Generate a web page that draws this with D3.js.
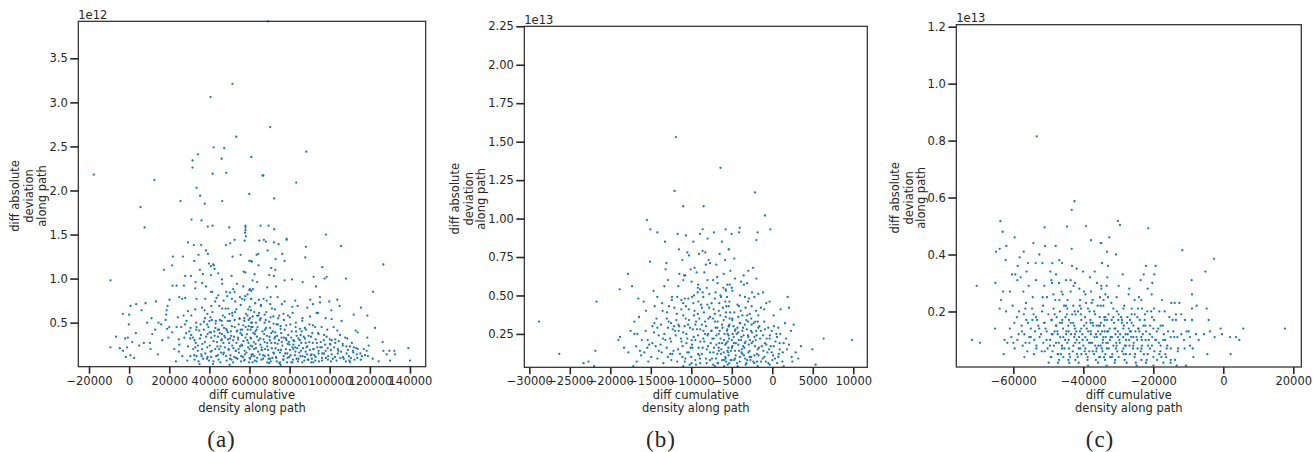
<!DOCTYPE html>
<html><head><meta charset="utf-8">
<script src="https://cdn.jsdelivr.net/npm/d3@7"></script>
<style>
html,body{margin:0;padding:0;background:#fff;}
svg text{font-family:"DejaVu Sans",sans-serif;fill:#262626;}
</style></head>
<body><svg id="chart" width="1314" height="452"></svg>
<script>
// ---------- DATA ----------
const xLabelLines = ["diff cumulative", "density along path"];
const yLabelLines = ["diff absolute", "deviation", "along path"];
const captions = ["(a)", "(b)", "(c)"];
const offsetTexts = ["1e12", "1e13", "1e13"];

const xTicksA = [-20000,0,20000,40000,60000,80000,100000,120000,140000];
const yTicksA = [0.5,1.0,1.5,2.0,2.5,3.0,3.5];
const xTicksB = [-30000,-25000,-20000,-15000,-10000,-5000,0,5000,10000];
const yTicksB = [0.25,0.50,0.75,1.00,1.25,1.50,1.75,2.00,2.25];
const xTicksC = [-60000,-40000,-20000,0,20000];
const yTicksC = [0.2,0.4,0.6,0.8,1.0,1.2];

// points: [diff cumulative density, diff absolute deviation (in units of the offset text)]
const pointsA = [
[69300,3.92],[51500,3.21],[40600,3.06],[70300,2.72],[53400,2.61],[42100,2.49],[47400,2.48],[88300,2.44],[34300,2.41],[46100,2.36],[31600,2.34],[31600,2.26],[60900,2.38],[-17600,2.18],[41600,2.19],[48400,2.2],[66500,2.17],[66900,2.17],[12600,2.12],[83300,2.09],[33600,2.03],[35400,1.94],[59900,1.96],[72300,1.91],[25600,1.88],[46400,1.88],[37700,1.85],[5700,1.81],[31100,1.67],[36100,1.66],[7700,1.58],[39200,1.59],[41600,1.6],[49900,1.58],[58000,1.6],[58000,1.55],[65500,1.6],[69500,1.6],[72300,1.56],[78500,1.45],[98100,1.5],[58000,1.58],[57800,1.52],[58200,1.48],
[29290,1.41],[32280,1.38],[35940,1.38],[34610,1.27],[38270,1.32],[39270,1.28],[48250,1.38],[50400,1.4],[52570,1.44],[57560,1.43],[51570,1.25],[55560,1.27],[21810,1.25],[26790,1.25],[32450,1.2],[21470,1.15],[39770,1.17],[41930,1.16],[42260,1.15],[40760,1.14],[35280,1.1],[42590,1.11],[59890,1.2],[60890,1.2],[57060,1.08],[57890,1.07],[17320,1.1],[27960,1.03],[30790,1.03],[36770,1.05],[40760,1.04],[44420,1.06],[46250,0.99],[51070,1.03],[-9290,0.98],[21640,0.92],[23640,0.92],[27290,0.92],[33110,0.96],[36440,0.95],[38270,0.91],[32950,0.89],[40760,0.85],[41430,0.85],[46420,0.94],[53740,0.94],[56900,0.91],[51900,0.88],[52570,0.85],[50240,0.84],[59890,0.87],[60890,0.86],[44420,0.81],[48410,0.85],[48910,0.8],[59060,0.82],[55230,0.79],[56230,0.77],[57890,0.8],[24970,0.79],[26460,0.77],[27960,0.78],[33610,0.77],[37940,0.77],[43590,0.78],[42930,0.74],[47080,0.75],[51240,0.77],[52900,0.74],[57560,0.76],[60720,0.77],[13320,0.74],[20140,0.76],[8170,0.72],[3510,0.71],[690,0.69],[6170,0.64],[19150,0.69],[18650,0.64],[29290,0.63],[32950,0.65],[36280,0.67],[37600,0.64],[40930,0.69],[44910,0.69],[46420,0.66],[49410,0.66],[51400,0.61],[53400,0.65],[59390,0.65],[60720,0.64],[-3140,0.6],[20,0.59],[11160,0.55],[18480,0.59],[18150,0.53],[24300,0.56],[27130,0.58],[28620,0.52],[33450,0.5],[37770,0.55],[40100,0.52],[38930,0.48],[41260,0.53],[43090,0.49],[45250,0.53],[46080,0.52],[47750,0.56],[50240,0.52],[52570,0.53],[55070,0.54],[57400,0.55],[59560,0.53],[61220,0.5],[-150,0.48],[14650,0.5],[15990,0.48],[18980,0.43],[23640,0.45],[25960,0.45],[27790,0.48],[30620,0.44],[33610,0.45],[34940,0.41],[37270,0.42],[39100,0.37],[40100,0.39],[42430,0.4],[44250,0.42],[46250,0.37],[48410,0.43],[49240,0.39],[50900,0.35],[53900,0.41],[55560,0.42],[58060,0.45],[60560,0.42],[61550,0.45],[3350,0.38],[11500,0.37],[21470,0.39],[28460,0.38],[30950,0.36],[-1980,0.32],[-650,0.33],[7340,0.27],[10330,0.27],[19480,0.33],[24800,0.31],[30450,0.32],[32610,0.3],[35280,0.32],[37770,0.28],[40930,0.33],[42100,0.29],[44250,0.34],[45920,0.3],[47910,0.33],[49240,0.31],[51900,0.3],[54230,0.33],[56230,0.36],[58890,0.3],[60720,0.32],[-9290,0.22],[-4640,0.21],[-980,0.22],[10660,0.2],[24800,0.17],[29290,0.23],[31950,0.2],[34280,0.24],[36280,0.2],[38930,0.22],[40600,0.17],[42930,0.2],[45580,0.23],[47250,0.16],[49570,0.2],[51400,0.24],[53240,0.18],[54570,0.2],[56400,0.24],[57560,0.18],[60060,0.2],[-1640,0.11],[690,0.13],[14320,0.14],[23300,0.06],[32450,0.13],[33610,0.12],[36110,0.12],[39100,0.11],[40930,0.11],[44250,0.13],[46910,0.14],[50240,0.09],[52400,0.11],[55900,0.12],[57560,0.08],[60060,0.1],[61720,0.14],
[64860,1.43],[68180,1.42],[72170,1.41],[74500,1.39],[67180,1.44],[78490,1.44],[88140,1.36],[105600,1.37],[64360,1.28],[63530,1.27],[76330,1.28],[69010,1.32],[73010,1.22],[77500,1.2],[87810,1.24],[61200,1.19],[64520,1.15],[70840,1.12],[72840,1.1],[96290,1.13],[126720,1.16],[62530,1.05],[69850,1.04],[72170,1.03],[91960,1.02],[97450,1],[98450,1.02],[108090,1],[77500,0.98],[81150,0.99],[86480,0.96],[61530,0.98],[63860,0.96],[68850,0.9],[73170,0.91],[93130,0.91],[121560,0.85],[60200,0.88],[61700,0.88],[70510,0.79],[74000,0.79],[60870,0.77],[64690,0.76],[67020,0.77],[68520,0.75],[77500,0.74],[82820,0.75],[90300,0.76],[95120,0.79],[99780,0.74],[103770,0.76],[95120,0.73],[62860,0.72],[65690,0.69],[70340,0.71],[72670,0.65],[76160,0.71],[81320,0.68],[83980,0.69],[88810,0.67],[91630,0.71],[94130,0.61],[100780,0.64],[104930,0.69],[115580,0.67],[111920,0.59],[118740,0.58],[62360,0.62],[64520,0.58],[67520,0.59],[74830,0.58],[77160,0.53],[79160,0.58],[81490,0.61],[86310,0.52],[90130,0.57],[93460,0.61],[97950,0.55],[100940,0.54],[105930,0.52],[60200,0.55],[65190,0.53],[69850,0.51],[72010,0.49],[75500,0.46],[80320,0.48],[82980,0.45],[85150,0.43],[88140,0.42],[91630,0.47],[95950,0.45],[98780,0.42],[101940,0.45],[103770,0.41],[122560,0.44],[112920,0.41],[113910,0.39],[60870,0.45],[63530,0.42],[67680,0.42],[70840,0.38],[72840,0.34],[76000,0.33],[78160,0.32],[81820,0.3],[85480,0.36],[87640,0.32],[90630,0.34],[94460,0.37],[98450,0.34],[100940,0.3],[105100,0.36],[108760,0.32],[118740,0.33],[126390,0.28],[139190,0.21],[62690,0.37],[65360,0.32],[67520,0.28],[70180,0.3],[74000,0.26],[78990,0.26],[82820,0.22],[85810,0.27],[88810,0.23],[91800,0.2],[96120,0.22],[100110,0.26],[102770,0.27],[106430,0.26],[110090,0.23],[113250,0.21],[119400,0.24],[60530,0.24],[63190,0.21],[66020,0.19],[68850,0.23],[71840,0.16],[75670,0.19],[78830,0.15],[81820,0.2],[84810,0.16],[87980,0.17],[90970,0.14],[94460,0.18],[97120,0.15],[100610,0.19],[104270,0.18],[108430,0.15],[111750,0.16],[115250,0.15],[118410,0.18],[126720,0.18],[129710,0.18],[132210,0.18],[132540,0.14],[128380,0.14],[61030,0.12],[63860,0.1],[66850,0.13],[70180,0.09],[73170,0.11],[76990,0.08],[79820,0.11],[83480,0.09],[86480,0.12],[89300,0.08],[92960,0.11],[96120,0.1],[99110,0.08],[102610,0.11],[106600,0.11],[109760,0.07],[113750,0.1],[117570,0.13],[121400,0.09],[124390,0.06],[130050,0.07],[140020,0.07],[61530,0.05],[68850,0.05],[75170,0.05],[80820,0.05],[91800,0.05],[110090,0.05],
[31000,0.58],[33500,0.42],[35800,0.36],[36500,0.26],[38000,0.15],[39500,0.45],[40200,0.24],[41500,0.62],[42000,0.06],[43000,0.44],[43800,0.28],[44600,0.08],[45200,0.38],[45900,0.16],[46700,0.58],[47300,0.44],[47800,0.22],[48600,0.07],[49200,0.52],[49900,0.27],[50500,0.13],[51200,0.46],[51800,0.05],[52300,0.34],[52800,0.62],[53500,0.27],[54000,0.09],[54600,0.48],[55300,0.23],[55800,0.06],[56400,0.42],[57000,0.29],[57700,0.14],[58300,0.6],[58700,0.37],[59300,0.22],[59800,0.05],[60500,0.33],[61000,0.14],[61600,0.57],[62100,0.28],[62600,0.07],[63200,0.5],[63700,0.34],[64300,0.17],[64800,0.61],[65400,0.25],[65900,0.08],[66500,0.4],[67000,0.31],[67600,0.12],[68100,0.53],[68700,0.35],[69200,0.19],[69800,0.04],[70300,0.44],[70900,0.27],[71400,0.1],[71900,0.57],[72500,0.32],[73000,0.21],[73600,0.06],[74100,0.48],[74700,0.3],[75200,0.16],[75800,0.38],[76400,0.24],[77000,0.12],[77500,0.42],[78100,0.2],[78700,0.05],[79300,0.36],[79900,0.25],[80500,0.13],[81000,0.4],[81700,0.08],[82300,0.29],[82900,0.17],[83500,0.35],[84100,0.06],[84700,0.24],[85400,0.12],[86000,0.4],[86700,0.21],[87300,0.07],[88000,0.27],[88700,0.14],[89400,0.35],[90100,0.19],[90800,0.05],[91500,0.27],[92300,0.13],[93000,0.31],[93800,0.22],[94600,0.06],[95500,0.28],[96300,0.15],[97200,0.36],[98100,0.1],[99000,0.21],[100000,0.31],[101000,0.14],[102200,0.22],[103400,0.07],[104500,0.29],[105700,0.17],[107000,0.09],[108300,0.23],[109500,0.12],[111000,0.27],[112300,0.08],[114000,0.2],[116000,0.12],[34200,0.18],[37300,0.51],[40800,0.39],[43400,0.12],[46200,0.31],[48100,0.66],[50700,0.4],[53100,0.18],[55600,0.7],[57400,0.52],[60100,0.68],[62900,0.4],[65700,0.7],[68400,0.62],[71200,0.66],[74300,0.55],[76900,0.6],[80100,0.56],[83100,0.5],[86400,0.55],[89900,0.48],[92700,0.45],[32600,0.08],[35100,0.03],[38800,0.09],[41800,0.03],[44900,0.2],[47500,0.35],[50100,0.02],[53700,0.4],[56700,0.11],[59600,0.46],[62300,0.2],[66200,0.19],[69500,0.09],[72800,0.39],[75500,0.02],[78400,0.3],[81400,0.22],[84400,0.32],[87600,0.44],[91100,0.09],[94200,0.38],[97700,0.25],[100600,0.06],[104000,0.15],[107700,0.33],[111600,0.18],
[30500,0.12],[31800,0.33],[33200,0.27],[34600,0.06],[35600,0.48],[36900,0.09],[38400,0.34],[39800,0.07],[40500,0.56],[41200,0.18],[42600,0.35],[43200,0.52],[44000,0.23],[45500,0.05],[46400,0.47],[47000,0.27],[48300,0.12],[48800,0.41],[49600,0.19],[50300,0.32],[51000,0.08],[51500,0.58],[52000,0.21],[52600,0.45],[53300,0.1],[54300,0.31],[54800,0.16],[55500,0.38],[56000,0.25],[56900,0.47],[57300,0.07],[58000,0.33],[58500,0.16],[59100,0.42],[59500,0.27],[60300,0.09],[60800,0.5],[61300,0.23],[61900,0.38],[62400,0.12],[63000,0.26],[63500,0.06],[64000,0.45],[64500,0.3],[65100,0.14],[65600,0.55],[66000,0.22],[66800,0.09],[67300,0.37],[67800,0.2],[68300,0.44],[68900,0.27],[69400,0.13],[70000,0.34],[70600,0.06],[71100,0.21],[71600,0.4],[72200,0.15],[72700,0.27],[73300,0.1],[73800,0.35],[74400,0.19],[74900,0.04],[75500,0.43],[76100,0.28],[76700,0.08],[77200,0.33],[77800,0.15],[78300,0.47],[79000,0.1],[79600,0.28],[80200,0.19],[80800,0.33],[81300,0.05],[81900,0.25],[82600,0.13],[83200,0.4],[83800,0.21],[84400,0.09],[85100,0.3],[85700,0.18],[86300,0.05],[87000,0.34],[87700,0.11],[88400,0.22],[89100,0.08],[89800,0.28],[90500,0.13],[91300,0.38],[92000,0.2],[92800,0.07],[93600,0.27],[94400,0.15],[95300,0.22],[96100,0.07],[97000,0.3],[98000,0.18],[99200,0.12],[100300,0.25],[101500,0.09],[102800,0.31],[104000,0.2],[105300,0.1],[106500,0.24],[108000,0.06],[109000,0.19],[110500,0.1],[112000,0.22],[113500,0.14],[115500,0.08],[117000,0.2],[119000,0.12],[44800,0.42],[50000,0.6],[55000,0.55],[59000,0.58],[63800,0.58],[67500,0.5],[70500,0.56],[73500,0.48],[39000,0.6],[36000,0.14],[33000,0.22],[30000,0.4],[27500,0.33],[25000,0.25],[22500,0.2],[26500,0.12],[29000,0.07],[20000,0.45],[16500,0.3],[13000,0.42],[9000,0.5],[5000,0.24],[1500,0.28],[-6500,0.34],[-3000,0.18],[2500,0.1]
];

const pointsB = [
[-11900,1.53],[-6400,1.33],[-12060,1.18],[-2140,1.17],[-28800,0.33],[-26300,0.12],[-23300,0.06],[-22700,0.07],[-21700,0.46],[-21850,0.14],[-22000,0.04],
[-10990,1.08],[-8480,1.08],[-15470,0.99],[-15060,0.93],[-14190,0.91],[-11690,0.9],[-10660,0.89],[-8930,0.9],[-8600,0.93],[-7200,0.91],[-7980,0.87],[-13250,0.85],[-9750,0.85],[-6210,0.85],[-11520,0.8],[-10490,0.78],[-10280,0.76],[-9050,0.77],[-8600,0.79],[-8270,0.78],[-6500,0.77],[-11110,0.73],[-15100,0.72],[-13080,0.71],[-13170,0.67],[-11480,0.64],[-10900,0.63],[-10740,0.63],[-10080,0.67],[-9340,0.65],[-8390,0.65],[-7690,0.71],[-7860,0.73],[-6910,0.7],[-5390,0.8],[-17820,0.64],[-17320,0.56],[-18840,0.54],[-14650,0.53],[-12880,0.6],[-13330,0.56],[-10990,0.6],[-9960,0.59],[-9170,0.57],[-8930,0.54],[-8100,0.55],[-7320,0.6],[-6750,0.58],[-6050,0.55],[-5550,0.57],[-14190,0.49],[-12380,0.49],[-11730,0.49],[-11230,0.47],[-10370,0.48],[-9670,0.5],[-9220,0.52],[-8520,0.49],[-7780,0.51],[-7080,0.48],[-6340,0.49],[-5720,0.53],[-16540,0.48],[-15880,0.46],[-14520,0.43],[-12760,0.43],[-12100,0.42],[-11230,0.41],[-10660,0.43],[-9750,0.45],[-9130,0.46],[-8680,0.42],[-8020,0.44],[-7240,0.41],[-6540,0.45],[-5800,0.46],[-5390,0.43],[-17030,0.33],[-16460,0.36],[-14560,0.32],[-14190,0.29],[-13540,0.4],[-13040,0.35],[-12510,0.32],[-11850,0.34],[-10990,0.37],[-10280,0.34],[-9670,0.37],[-9010,0.35],[-8440,0.39],[-7690,0.36],[-7080,0.33],[-6420,0.37],[-5720,0.39],[-5270,0.35],[-15630,0.27],[-13740,0.31],[-12880,0.29],[-12140,0.3],[-11560,0.27],[-10820,0.3],[-10160,0.29],[-9500,0.31],[-8890,0.28],[-8190,0.3],[-7530,0.27],[-6790,0.29],[-6210,0.31],[-5550,0.28],[-19010,0.21],[-18800,0.23],[-17030,0.25],[-16660,0.25],[-15390,0.21],[-14810,0.19],[-14030,0.24],[-13330,0.25],[-12630,0.22],[-11930,0.24],[-11270,0.22],[-10610,0.25],[-9960,0.21],[-9170,0.24],[-8520,0.22],[-7900,0.25],[-7240,0.22],[-6620,0.25],[-5960,0.21],[-5390,0.24],[-17770,0.13],[-16340,0.14],[-15430,0.16],[-14940,0.1],[-14400,0.17],[-13660,0.13],[-13040,0.16],[-12340,0.12],[-11640,0.15],[-11070,0.17],[-10490,0.13],[-9870,0.16],[-9170,0.12],[-8600,0.16],[-7940,0.17],[-7280,0.13],[-6620,0.16],[-6010,0.13],[-5430,0.16],[-16740,0.07],[-15310,0.07],[-14190,0.09],[-13450,0.06],[-12470,0.08],[-11730,0.07],[-10740,0.09],[-9960,0.06],[-8930,0.09],[-8100,0.06],[-7450,0.09],[-6750,0.06],[-5960,0.08],[-5310,0.06],[-17160,0.04],[-10990,0.04],[-9420,0.05],[-7080,0.04],
[-900,1.02],[-240,0.93],[-1810,0.91],[-1970,0.86],[-5020,0.9],[-4110,0.91],[-4030,0.94],[-5760,0.93],[-5350,0.8],[-4690,0.74],[-5840,0.73],[-5180,0.66],[-2380,0.68],[-2960,0.66],[-1970,0.61],[-3540,0.63],[-3860,0.59],[-3120,0.58],[-5260,0.57],[-4930,0.53],[-5760,0.54],[-1730,0.51],[-1150,0.52],[-2220,0.49],[-3370,0.49],[-2880,0.48],[1900,0.49],[-5590,0.49],[-330,0.46],[-740,0.45],[-1400,0.42],[-2550,0.43],[-4110,0.43],[2060,0.42],[1030,0.41],[170,0.37],[-5680,0.43],[-4690,0.39],[-3700,0.37],[-2790,0.38],[-1730,0.37],[-4930,0.35],[-4030,0.32],[-3210,0.34],[-2300,0.32],[740,0.29],[1570,0.32],[2640,0.31],[-5350,0.3],[-4610,0.27],[-3620,0.29],[-2630,0.27],[-1730,0.29],[-900,0.28],[-80,0.27],[2310,0.27],[990,0.25],[6340,0.22],[9840,0.21],[-5510,0.25],[-4770,0.23],[-3860,0.21],[-2960,0.23],[-2050,0.21],[-1150,0.24],[-330,0.22],[580,0.23],[1400,0.19],[2060,0.18],[3540,0.17],[-5680,0.19],[-4930,0.17],[-4190,0.18],[-3450,0.16],[-2550,0.19],[-1640,0.16],[-740,0.18],[170,0.17],[910,0.15],[1810,0.15],[2880,0.13],[4940,0.15],[-5430,0.13],[-4520,0.11],[-3700,0.12],[-2790,0.1],[-1890,0.12],[-980,0.1],[-80,0.13],[740,0.1],[2390,0.1],[3210,0.09],[-5760,0.09],[-5020,0.08],[-4030,0.07],[-3120,0.08],[-2220,0.06],[-1400,0.07],[-490,0.06],[330,0.09],[1240,0.07],[2470,0.07],[-5510,0.05],[-4280,0.04],[-3290,0.05],[-1810,0.04],[-330,0.05],[1400,0.04],[5350,0.05],
[-11800,0.38],[-11400,0.12],[-11000,0.26],[-10600,0.19],[-10300,0.41],[-10000,0.1],[-9700,0.23],[-9400,0.33],[-9100,0.16],[-8800,0.44],[-8500,0.27],[-8200,0.09],[-7900,0.35],[-7600,0.19],[-7300,0.05],[-7000,0.29],[-6800,0.12],[-6600,0.4],[-6400,0.22],[-6200,0.08],[-6000,0.34],[-5800,0.18],[-5600,0.27],[-5400,0.11],[-5200,0.39],[-5000,0.21],[-4800,0.3],[-4600,0.14],[-4400,0.25],[-4200,0.36],[-4000,0.1],[-3800,0.23],[-3600,0.17],[-3400,0.31],[-3200,0.06],[-3000,0.24],[-2800,0.14],[-2600,0.35],[-2400,0.2],[-2200,0.11],[-2000,0.27],[-1800,0.15],[-1500,0.22],[-1200,0.09],[-900,0.19],[-600,0.13],[-300,0.24],[0,0.08],[400,0.2],[800,0.12],[-12500,0.2],[-12200,0.14],[-11600,0.31],[-11200,0.2],[-10800,0.07],[-10400,0.31],[-10100,0.16],[-9800,0.28],[-9500,0.08],[-9200,0.38],[-8900,0.2],[-8700,0.12],[-8300,0.33],[-8000,0.24],[-7700,0.13],[-7400,0.22],[-7100,0.38],[-6900,0.18],[-6700,0.06],[-6500,0.27],[-6300,0.15],[-6100,0.42],[-5900,0.25],[-5700,0.07],[-5500,0.2],[-5300,0.31],[-5100,0.14],[-4900,0.25],[-4700,0.08],[-4500,0.19],[-4300,0.29],[-4100,0.14],[-3900,0.4],[-3700,0.27],[-3500,0.11],[-3300,0.2],[-3100,0.37],[-2900,0.18],[-2700,0.08],[-2500,0.26],[-2100,0.33],[-1900,0.07],[-1600,0.3],[-1300,0.17],[-1000,0.33],[-700,0.22],[-400,0.15],[200,0.3],[600,0.06],[-13200,0.21],[-12800,0.33],[-12000,0.27],[-11000,0.45],[-9900,0.49],[-8600,0.52],[-7500,0.45],[-6400,0.5],[-5300,0.46],[-4300,0.44],[-3300,0.42],[-14600,0.26],[-13800,0.18],[-12900,0.1],[-15800,0.13],[-16100,0.21],
[-11500,0.3],[-11100,0.1],[-10700,0.35],[-10500,0.22],[-10200,0.05],[-9900,0.18],[-9600,0.4],[-9300,0.28],[-9000,0.11],[-8700,0.31],[-8400,0.2],[-8100,0.15],[-7800,0.42],[-7500,0.27],[-7200,0.16],[-6950,0.09],[-6750,0.33],[-6550,0.19],[-6350,0.12],[-6150,0.29],[-5950,0.04],[-5750,0.36],[-5550,0.14],[-5350,0.22],[-5150,0.08],[-4950,0.34],[-4750,0.19],[-4550,0.28],[-4350,0.06],[-4150,0.21],[-3950,0.32],[-3750,0.15],[-3550,0.24],[-3350,0.09],[-3150,0.28],[-2950,0.13],[-2750,0.21],[-2550,0.31],[-2350,0.07],[-2150,0.17],[-1950,0.24],[-1700,0.11],[-1400,0.27],[-1100,0.14],[-800,0.07],[-500,0.29],[-200,0.17],[100,0.11],[500,0.25],[900,0.19],[1300,0.13],[1700,0.22],[-12300,0.28],[-12600,0.12],[-13000,0.39],[-13500,0.22],[-14000,0.14],[-14300,0.35],[-14800,0.3],[-15200,0.18],[-15600,0.4],[-16200,0.11],[-16800,0.17],[-17500,0.27],[-18300,0.16],[-10300,0.13],[-9500,0.21],[-8900,0.06],[-8300,0.25],[-7700,0.08],[-7300,0.35],[-6900,0.24],[-6600,0.14],[-6200,0.19],[-5800,0.1],[-5400,0.3],[-5000,0.16],[-4600,0.09],[-4200,0.26],[-3800,0.13],[-3400,0.19],[-3000,0.33],[-2600,0.1],[-2200,0.23],[-1800,0.33],[-10800,0.48],[-9200,0.55],[-8000,0.6],[-7000,0.52],[-6000,0.64],[-5000,0.55],[-4000,0.5],[-3000,0.46],[-2000,0.4],[-1000,0.41],[-11600,0.56],[-12400,0.47],[-13600,0.45],[-9600,0.68],[-8200,0.7],[-6800,0.62],[-4600,0.61],[-3500,0.57],[-2500,0.52]
];

const pointsC = [
[-53300,0.815],[-42500,0.587],[-43300,0.557],[-63700,0.517],[-30100,0.518],[-29520,0.504],[-39240,0.5],[-44670,0.498],[-51050,0.495],[-21430,0.492],
[-63040,0.48],[-59610,0.46],[-61990,0.43],[-54270,0.44],[-50940,0.43],[-47890,0.43],[-43320,0.42],[-37800,0.45],[-35040,0.44],[-64940,0.41],[-63890,0.42],[-57040,0.41],[-52560,0.4],[-58180,0.39],[-55800,0.37],[-62180,0.38],[-58750,0.36],[-53610,0.37],[-51700,0.37],[-48850,0.37],[-46850,0.38],[-46080,0.37],[-43230,0.36],[-41890,0.35],[-56180,0.34],[-60370,0.33],[-59420,0.33],[-57890,0.32],[-58850,0.31],[-53510,0.31],[-49420,0.34],[-47800,0.33],[-44940,0.31],[-43610,0.31],[-42370,0.3],[-40080,0.34],[-38080,0.32],[-36750,0.34],[-34660,0.37],[-70470,0.29],[-65130,0.3],[-62940,0.27],[-60940,0.27],[-57130,0.27],[-55610,0.29],[-51130,0.29],[-48940,0.3],[-49130,0.31],[-46940,0.3],[-45890,0.26],[-43610,0.27],[-41130,0.28],[-39800,0.27],[-37800,0.27],[-36080,0.3],[-34850,0.29],[-63510,0.24],[-60180,0.22],[-56370,0.23],[-54460,0.25],[-51610,0.25],[-50370,0.25],[-48560,0.26],[-46850,0.24],[-44940,0.22],[-42850,0.22],[-40940,0.24],[-39230,0.23],[-37320,0.24],[-35230,0.25],[-33700,0.26],[-63890,0.21],[-62080,0.2],[-58370,0.2],[-56560,0.21],[-54650,0.21],[-53510,0.18],[-51800,0.2],[-49990,0.19],[-48180,0.19],[-46660,0.2],[-44560,0.21],[-42460,0.2],[-40650,0.21],[-38660,0.21],[-36650,0.19],[-34270,0.22],[-59700,0.16],[-57610,0.15],[-56270,0.17],[-54560,0.17],[-52850,0.15],[-51040,0.16],[-49130,0.17],[-47700,0.15],[-46080,0.16],[-44080,0.17],[-42560,0.15],[-40560,0.17],[-39130,0.16],[-37320,0.16],[-35610,0.15],[-33890,0.17],[-65230,0.14],[-60560,0.11],[-56850,0.12],[-55420,0.11],[-53800,0.13],[-52080,0.12],[-50460,0.13],[-48750,0.12],[-47420,0.13],[-45700,0.11],[-44180,0.13],[-42370,0.12],[-40940,0.13],[-39420,0.11],[-37890,0.13],[-36370,0.12],[-34660,0.13],[-71800,0.1],[-69510,0.09],[-61700,0.09],[-58850,0.1],[-57320,0.08],[-55420,0.09],[-53420,0.07],[-51420,0.09],[-49510,0.08],[-47800,0.09],[-46080,0.07],[-44560,0.09],[-42850,0.08],[-41130,0.09],[-39420,0.07],[-37890,0.09],[-36180,0.07],[-34470,0.09],[-62750,0.05],[-59610,0.07],[-56850,0.04],[-54080,0.05],[-51040,0.06],[-49130,0.04],[-47320,0.05],[-45700,0.04],[-43990,0.05],[-42270,0.03],[-40560,0.05],[-38750,0.04],[-36940,0.05],[-35230,0.04],[-33700,0.05],[-49890,0.02],[-47230,0.02],[-44270,0.03],[-41320,0.02],[-38660,0.01],[-35800,0.02],
[-32560,0.46],[-34850,0.44],[-33230,0.41],[-30660,0.4],[-34660,0.37],[-32940,0.36],[-22090,0.36],[-19330,0.36],[-33140,0.32],[-28750,0.33],[-22750,0.33],[-19710,0.33],[-11710,0.415],[-2660,0.385],[-5130,0.34],[-9040,0.31],[-23610,0.31],[-20280,0.3],[-34850,0.28],[-33330,0.29],[-29900,0.29],[-26850,0.28],[-32940,0.25],[-30470,0.25],[-27040,0.26],[-24090,0.25],[-21610,0.28],[-20470,0.26],[-17520,0.24],[-8940,0.26],[-14850,0.23],[-13900,0.23],[-12560,0.23],[-23420,0.24],[-25330,0.24],[-35040,0.22],[-31420,0.21],[-28560,0.21],[-26180,0.21],[-23230,0.21],[-19800,0.21],[-21710,0.2],[-18280,0.2],[-16750,0.2],[-13520,0.19],[-8940,0.21],[-7610,0.22],[-4750,0.21],[-33710,0.18],[-31420,0.18],[-28940,0.17],[-26660,0.17],[-24560,0.18],[-22470,0.17],[-20370,0.18],[-15420,0.18],[-13520,0.17],[-10940,0.17],[-8940,0.17],[-4180,0.17],[-760,0.14],[5720,0.14],[17630,0.14],[-35230,0.15],[-33140,0.13],[-30850,0.14],[-28560,0.14],[-26660,0.13],[-24370,0.14],[-22280,0.15],[-19990,0.14],[-17900,0.15],[-14280,0.13],[-11990,0.12],[-9900,0.13],[-7800,0.12],[-5520,0.12],[-2470,0.11],[-370,0.12],[1910,0.11],[3630,0.11],[4580,0.1],[-3800,0.13],[-34280,0.11],[-32370,0.1],[-30090,0.11],[-27800,0.1],[-25710,0.11],[-23420,0.11],[-21320,0.1],[-19420,0.1],[-17130,0.1],[-15040,0.11],[-13130,0.11],[-11230,0.1],[-9520,0.11],[-7040,0.1],[-35040,0.08],[-32750,0.07],[-30470,0.08],[-28560,0.07],[-25710,0.08],[-23230,0.08],[-20940,0.07],[-17900,0.08],[-16180,0.07],[-12940,0.07],[-11040,0.07],[-8750,0.07],[-34090,0.04],[-31800,0.04],[-29900,0.04],[-27800,0.05],[-25330,0.04],[-23420,0.03],[-19990,0.04],[-18280,0.05],[-16560,0.05],[-15040,0.03],[-8560,0.04],[-4560,0.05],[2100,0.05],[-33330,0.01],[-31040,0.02],[-27610,0.02],[-24750,0.01],[-22090,0.02],[-19990,0.01],[-17130,0.02],[-15040,0.02],[-13330,0.01],[-10660,0.01],
[-49500,0.1],[-48800,0.06],[-48200,0.13],[-47600,0.18],[-47000,0.09],[-46400,0.05],[-45800,0.14],[-45200,0.1],[-44700,0.19],[-44100,0.07],[-43500,0.12],[-42900,0.16],[-42300,0.09],[-41800,0.05],[-41200,0.11],[-40600,0.14],[-40000,0.08],[-39500,0.18],[-38900,0.1],[-38300,0.06],[-37800,0.12],[-37200,0.15],[-36600,0.08],[-36100,0.11],[-35500,0.04],[-35000,0.16],[-34400,0.1],[-33900,0.13],[-33300,0.07],[-32800,0.19],[-32200,0.11],[-31700,0.05],[-31100,0.14],[-30600,0.09],[-30000,0.17],[-29500,0.12],[-28900,0.06],[-28400,0.15],[-27800,0.08],[-27300,0.12],[-26700,0.05],[-26200,0.16],[-25600,0.09],[-25100,0.13],[-24500,0.07],[-23900,0.17],[-23300,0.1],[-22700,0.05],[-22100,0.13],[-21500,0.08],[-20900,0.15],[-20300,0.11],[-19700,0.06],[-19000,0.13],[-18400,0.09],[-17700,0.04],[-17000,0.12],[-50800,0.14],[-50200,0.07],[-49000,0.17],[-48500,0.21],[-47300,0.12],[-46700,0.16],[-46100,0.08],[-45500,0.22],[-44900,0.12],[-44300,0.15],[-43800,0.04],[-43200,0.19],[-42600,0.11],[-42000,0.13],[-41500,0.2],[-40900,0.07],[-40300,0.12],[-39800,0.15],[-39200,0.05],[-38600,0.13],[-38000,0.17],[-37500,0.09],[-36900,0.2],[-36300,0.06],[-35800,0.13],[-35300,0.18],[-34700,0.07],[-34100,0.15],[-33600,0.11],[-33000,0.09],[-32500,0.14],[-31900,0.17],[-31400,0.08],[-30800,0.12],[-30300,0.06],[-29700,0.1],[-29200,0.18],[-28600,0.11],[-28100,0.08],[-27500,0.16],[-26900,0.1],[-26400,0.13],[-25800,0.07],[-25300,0.19],[-24800,0.11],[-24200,0.14],[-23600,0.06],[-23000,0.12],[-52500,0.11],[-53200,0.17],[-54000,0.1],[-55000,0.14],[-56000,0.06],[-57000,0.19],[-58500,0.12],[-60000,0.09],[-51500,0.22],[-16000,0.08],[-14500,0.17],[-13000,0.06],[-12000,0.19],[-10500,0.13],[-9500,0.08],
[-49000,0.12],[-48400,0.08],[-47800,0.15],[-47200,0.05],[-46600,0.11],[-46000,0.17],[-45400,0.07],[-44800,0.13],[-44200,0.1],[-43600,0.16],[-43000,0.06],[-42400,0.14],[-41900,0.1],[-41300,0.07],[-40700,0.19],[-40200,0.1],[-39600,0.06],[-39000,0.14],[-38400,0.09],[-37900,0.16],[-37300,0.06],[-36800,0.11],[-36200,0.15],[-35700,0.08],[-35100,0.12],[-34500,0.06],[-34000,0.18],[-33400,0.09],[-32900,0.13],[-32300,0.04],[-31800,0.11],[-31200,0.16],[-30700,0.07],[-30100,0.13],[-29600,0.09],[-29000,0.16],[-28500,0.05],[-27900,0.12],[-27400,0.18],[-26800,0.08],[-26300,0.11],[-25700,0.15],[-25200,0.05],[-24600,0.1],[-24000,0.13],[-23400,0.07],[-22800,0.15],[-22200,0.1],[-21600,0.05],[-21000,0.12],[-20400,0.08],[-19800,0.17],[-19200,0.1],[-18600,0.14],[-18000,0.06],[-17300,0.15],[-16600,0.1],[-15800,0.13],[-15000,0.07],[-14000,0.11],[-50500,0.1],[-51200,0.16],[-51900,0.06],[-52600,0.14],[-53400,0.08],[-54200,0.19],[-55000,0.11],[-55800,0.16],[-56500,0.09],[-57500,0.13],[-59000,0.18],[-61000,0.14],[-62500,0.1],[-48000,0.24],[-46200,0.27],[-44500,0.24],[-42800,0.29],[-41000,0.22],[-39400,0.26],[-37600,0.23],[-35900,0.22],[-34200,0.24],[-32000,0.23],[-30400,0.2],[-28300,0.22],[-26200,0.19],[-24400,0.21],[-22400,0.19],[-20600,0.2],[-49300,0.04],[-46900,0.03],[-44000,0.02],[-41600,0.04],[-38800,0.03],[-36400,0.03],[-33800,0.03],[-30900,0.03],[-28200,0.03],[-45100,0.18],[-42200,0.19],[-38200,0.2],[-33200,0.17],[-29900,0.19],[-27000,0.14],[-25000,0.02],[-21900,0.03],[-18900,0.03],[-16300,0.04],[-13800,0.03]
];

// ---------- LAYOUT ----------
const panels = [
  {pts: pointsA, xd: [-25340, 147830], yd: [0, 3.92], xt: xTicksA, yt: yTicksA, yf: ".1f",
   box: {l: 78.3, r: 425.7, t: 21.3, b: 366.7}, ylx: [15, 29, 42], cap: 221.5, off: offsetTexts[0]},
  {pts: pointsB, xd: [-30620, 11730], yd: [0.033, 2.25], xt: xTicksB, yt: yTicksB, yf: ".2f",
   box: {l: 524.3, r: 867.3, t: 26.3, b: 367.3}, ylx: [455, 469, 481], cap: 661, off: offsetTexts[1]},
  {pts: pointsC, xd: [-76290, 22290], yd: [0.005, 1.207], xt: xTicksC, yt: yTicksC, yf: ".1f",
   box: {l: 956.3, r: 1301.3, t: 24.7, b: 367}, ylx: [895, 908.5, 921], cap: 1100, off: offsetTexts[2]}
];

const svg = d3.select("#chart");
const FS = 11.5;
const ink = "#262626";
const fmtX = d3.format("d");

panels.forEach((p, i) => {
  const x = d3.scaleLinear().domain(p.xd).range([p.box.l, p.box.r]);
  const y = d3.scaleLinear().domain(p.yd).range([p.box.b, p.box.t]);
  const g = svg.append("g");

  g.append("g").selectAll("circle").data(p.pts).join("circle")
    .attr("cx", d => x(d[0])).attr("cy", d => y(d[1]))
    .attr("r", 1.15).attr("fill", "#1f77b4");

  const xa = g.append("g").attr("transform", `translate(0,${p.box.b})`)
    .call(d3.axisBottom(x).tickValues(p.xt).tickFormat(fmtX).tickSize(7).tickPadding(3));
  const ya = g.append("g").attr("transform", `translate(${p.box.l},0)`)
    .call(d3.axisLeft(y).tickValues(p.yt).tickFormat(d3.format(p.yf)).tickSize(8).tickPadding(2.5));
  [xa, ya].forEach(a => {
    a.select(".domain").remove();
    a.selectAll(".tick line").attr("stroke", ink).attr("stroke-width", 1.6);
    a.selectAll(".tick text").attr("fill", ink).style("font-size", FS + "px")
      .style("font-family", '"DejaVu Sans", sans-serif');
  });

  g.append("rect").attr("x", p.box.l).attr("y", p.box.t)
    .attr("width", p.box.r - p.box.l).attr("height", p.box.b - p.box.t)
    .attr("fill", "none").attr("stroke", ink).attr("stroke-width", 1.2);

  g.append("text").attr("x", p.box.l).attr("y", p.box.t - 2.5)
    .style("font-size", FS + "px").text(p.off);

  const cx = (p.box.l + p.box.r) / 2;
  xLabelLines.forEach((t, k) => {
    g.append("text").attr("x", cx).attr("y", 398.5 + k * 13.2)
      .attr("text-anchor", "middle").style("font-size", FS + "px").text(t);
  });
  const cy = (p.box.t + p.box.b) / 2 + 2;
  yLabelLines.forEach((t, k) => {
    g.append("text").attr("transform", `translate(${p.ylx[k]},${cy}) rotate(-90)`)
      .attr("text-anchor", "middle").attr("dy", "0.35em")
      .style("font-size", FS + "px").text(t);
  });

  svg.append("text").attr("x", p.cap).attr("y", 446.5)
    .attr("text-anchor", "middle")
    .style("font-family", '"Liberation Serif", "DejaVu Serif", serif')
    .style("font-size", "23px").style("letter-spacing", "1px")
    .attr("fill", "#000").text(captions[i]);
});
</script>
</body></html>
